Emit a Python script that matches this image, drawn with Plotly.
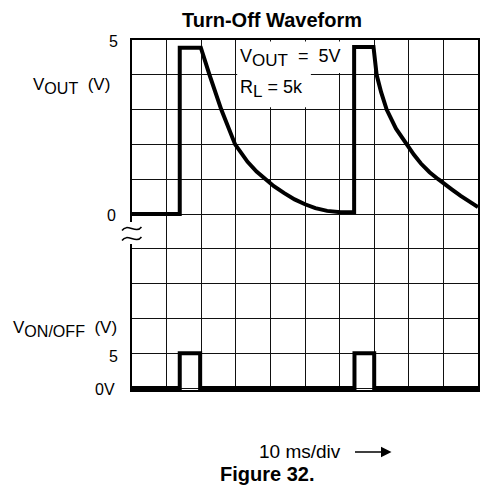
import plotly.graph_objects as go

# ---- data (time in ms, 10 ms/div) ----
vout_t = [0, 13.8, 13.8, 19.9, 22.4, 25.8, 29.8, 31.5, 33.4, 36.0, 38.7, 41.0, 44.0, 47.0, 50.0,
          53.0, 56.4, 60.3, 64.2, 64.2, 69.8, 70.7, 72.0, 73.6, 76.3, 79.3, 81.5, 83.5, 86.0,
          88.5, 90.0, 92.5, 95.0, 97.5, 100.0]
vout_v = [0, 0, 4.78, 4.78, 4.0, 3.0, 2.0, 1.75, 1.5, 1.22, 0.98, 0.8, 0.6, 0.42, 0.28,
          0.17, 0.09, 0.05, 0.05, 4.8, 4.8, 4.0, 3.5, 3.0, 2.45, 2.0, 1.7, 1.45, 1.2,
          1.0, 0.88, 0.7, 0.52, 0.36, 0.2]
von_t = [0, 13.8, 13.8, 19.7, 19.7, 64.3, 64.3, 70.0, 70.0, 100.0]
von_v = [0, 0, 5, 5, 0, 0, 5, 5, 0, 0]

# ---- layout geometry (pixels) ----
W, H = 481, 485
L, R, T, B = 132, 1, 40, 95
PW, PH = W - L - R, H - T - B
DIV = 34.8


def px(x):
    return (x - L) / PW


def py(y):
    return (H - B - y) / PH


FONT = "Liberation Sans"
fig = go.Figure()
fig.add_trace(go.Scatter(x=vout_t, y=vout_v, mode="lines", yaxis="y",
                         line=dict(color="black", width=4), showlegend=False, hoverinfo="skip"))
fig.add_trace(go.Scatter(x=von_t, y=von_v, mode="lines", yaxis="y2",
                         line=dict(color="black", width=4), showlegend=False, hoverinfo="skip"))

extra = 2 / DIV  # bottom extension (divisions) so the thick 0V line is not clipped
fig.update_layout(
    width=W, height=H, margin=dict(l=L, r=R, t=T, b=B),
    paper_bgcolor="white", plot_bgcolor="white",
    xaxis=dict(range=[0, 100], dtick=10, tick0=0, showgrid=True, gridcolor="#111", gridwidth=1.2,
               showticklabels=False, ticks="", zeroline=False,
               showline=True, mirror=True, linecolor="black", linewidth=1.5),
    yaxis=dict(range=[-5 - extra, 5], dtick=1, tick0=0, showgrid=True, gridcolor="#111", gridwidth=1.2,
               showticklabels=False, ticks="", zeroline=False,
               showline=True, mirror=True, linecolor="black", linewidth=1.5),
    yaxis2=dict(range=[-5 * extra, 50], overlaying="y", showgrid=False, showticklabels=False,
                ticks="", zeroline=False, showline=False),
)

shapes = []
# white backgrounds behind the parameter text
shapes.append(dict(type="rect", xref="x", yref="y", x0=30.4, x1=60.4, y0=4.05, y1=4.96,
                   fillcolor="white", line=dict(width=0), layer="above"))
shapes.append(dict(type="rect", xref="x", yref="y", x0=30.4, x1=51.7, y0=3.07, y1=4.06,
                   fillcolor="white", line=dict(width=0), layer="above"))
# break in left axis
shapes.append(dict(type="rect", xref="paper", yref="paper", x0=px(128.5), x1=px(135.5),
                   y0=py(244), y1=py(222), fillcolor="white", line=dict(width=0), layer="above"))


def squiggle(yc):
    pts = [(122, yc + 2), (127, yc - 6), (136, yc + 6), (141.5, yc - 1.5)]
    (x0, y0), (x1, y1), (x2, y2), (x3, y3) = pts
    return (f"M {px(x0)},{py(y0)} C {px(x1)},{py(y1)} {px(x2)},{py(y2)} {px(x3)},{py(y3)}")


for yc in (228.5, 238.5):
    shapes.append(dict(type="path", xref="paper", yref="paper", path=squiggle(yc),
                       line=dict(color="black", width=1.5), layer="above"))
fig.update_layout(shapes=shapes)

SUB = '<sub><span style="font-size:135%">{}</span></sub>'
ann = []


def text(x, y, s, size=16, anchor="right"):
    ann.append(dict(xref="paper", yref="paper", x=px(x), y=py(y), text=s, showarrow=False,
                    xanchor=anchor, yanchor="middle",
                    font=dict(family=FONT, size=size, color="black")))


text(272.5, 20, "<b>Turn-Off Waveform</b>", size=20, anchor="center")
text(120, 42, "5")
text(112, 86, "V" + SUB.format("OUT") + "  (V)", size=17)
text(119, 329, "V" + SUB.format("ON/OFF") + "  (V)", size=17)
text(118, 215, "0")
text(120, 356, "5")
text(117, 389, "0V")
text(267.5, 474, "<b>Figure 32.</b>", size=20, anchor="center")
text(258, 451, "10 ms/div", size=19, anchor="left")
ann.append(dict(xref="x", yref="y", x=30.6, y=4.48, text="V" + SUB.format("OUT") + "  =  5V",
                showarrow=False, xanchor="left", yanchor="middle",
                font=dict(family=FONT, size=18, color="black")))
ann.append(dict(xref="x", yref="y", x=30.6, y=3.6, text="R" + SUB.format("L") + " = 5k",
                showarrow=False, xanchor="left", yanchor="middle",
                font=dict(family=FONT, size=18, color="black")))
# arrow
ann.append(dict(xref="paper", yref="paper", x=px(393), y=py(452), ax=-38, ay=0, text="",
                showarrow=True, arrowhead=2, arrowsize=1.5, arrowwidth=1.4, arrowcolor="black"))
fig.update_layout(annotations=ann)

fig.write_html("out.html", config={"displayModeBar": False},
               post_script="document.body.style.margin='0';document.body.style.overflow='hidden';")
